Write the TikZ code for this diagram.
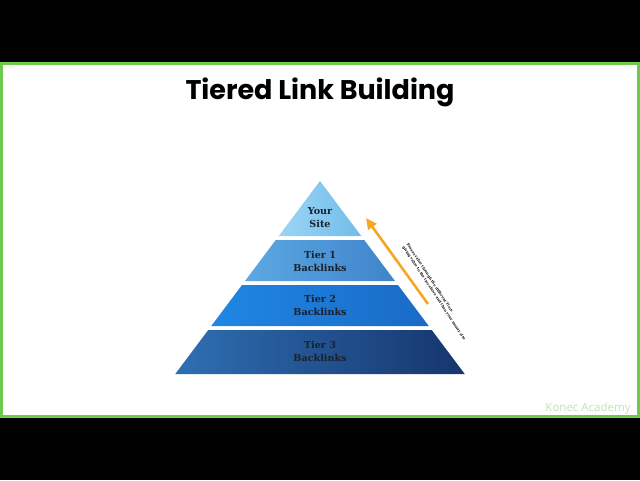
\documentclass[tikz,border=0pt]{standalone}
\usepackage{fontspec}
\setmainfont{DejaVu Serif}
\newfontfamily\titlefont{Poppins}
\newfontfamily\markfont{Open Sans}
\usetikzlibrary{arrows.meta}
\definecolor{framegreen}{HTML}{6CCB4E}
\definecolor{tipsorange}{HTML}{F5A623}
\definecolor{tiertext}{HTML}{18212E}
\definecolor{markgreen}{HTML}{C2E3B6}
\tikzset{
  tierlabel/.style={font=\bfseries\fontsize{9.6}{13}\selectfont, text=tiertext, align=center},
}
\begin{document}
\begin{tikzpicture}[x=1pt,y=-1pt]
\useasboundingbox (0,0) rectangle (640,480);
% screen and frame
\fill[black] (0,0) rectangle (640,480);
\fill[white, draw=framegreen, line width=3pt] (1.5,63.5) rectangle (638.5,416.5);
% title
\node (title) at (320,92) {\titlefont\bfseries\fontsize{27}{30}\selectfont Tiered Link Building};
% pyramid layers, sides x = 320 -+ 0.75*(y-181)
\foreach \ya/\yb/\cl/\cr in {181/236/9AD6F4/72BCEA, 240/281/5DA8E2/3E84CB, 285/326/2086E4/196BC6, 330/374/2E6FB3/16356C}{
  \definecolor{layerleft}{HTML}{\cl}
  \definecolor{layerright}{HTML}{\cr}
  \shade[left color=layerleft, right color=layerright]
    ({320-0.75*(\ya-181)},\ya) -- ({320+0.75*(\ya-181)},\ya)
    -- ({320+0.75*(\yb-181)},\yb) -- ({320-0.75*(\yb-181)},\yb) -- cycle;
}
\node[tierlabel] (site) at (320,218) {Your\\Site};
\node[tierlabel] (tier1) at (320,261) {Tier 1\\Backlinks};
\node[tierlabel] (tier2) at (320,305) {Tier 2\\Backlinks};
\node[tierlabel] (tier3) at (320,351) {Tier 3\\Backlinks};
% value flow arrow
\coordinate (flowtail) at (428,304);
\coordinate (flowhead) at (366,218);
\draw[tipsorange, line width=2.6pt, -{Triangle[width=10pt,length=11pt]}] (flowtail) -- (flowhead);
\node[rotate=-56.6, font=\bfseries\fontsize{3.6}{5}\selectfont, align=left, text=black] (flownote) at (436,292)
  {Passes value through the different Tiers\\giving value to the tier above and then your money site};
% watermark
\node[text=markgreen, font=\markfont\fontsize{11.5}{13}\selectfont] (mark) at (588,409) {Konec Academy};
\end{tikzpicture}
\end{document}
